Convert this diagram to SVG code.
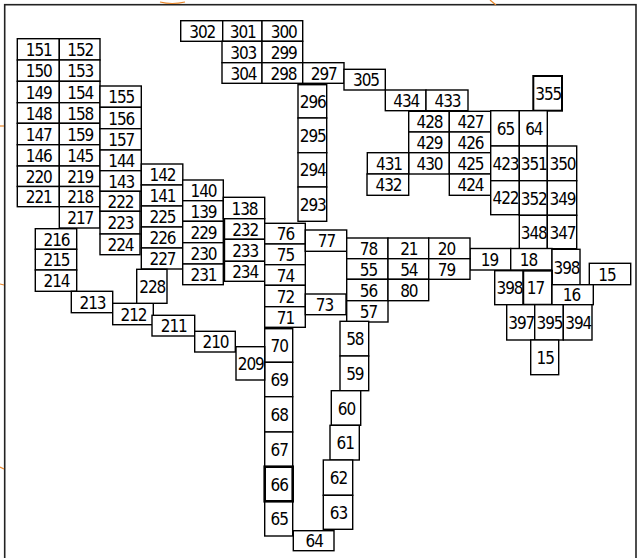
<svg xmlns="http://www.w3.org/2000/svg" width="640" height="558" viewBox="0 0 640 558">
<style>
rect{fill:#fff;stroke:#000;stroke-width:1.4}
rect.bold{stroke-width:2.6}
text{font-family:"DejaVu Sans Condensed","Liberation Sans",sans-serif;font-size:17px;letter-spacing:-1.1px;text-anchor:middle;fill:#000}
.frame{fill:none;stroke:#222;stroke-width:1.6}
.mark{fill:none;stroke:#e8862a;stroke-width:1.2}
</style>
<rect x="0" y="0" width="640" height="558" style="fill:#fff;stroke:none"/>
<rect class="frame" x="4.7" y="4.7" width="631.3" height="560"/>
<g id="marks">
<path class="mark" d="M160 2 Q172 5 185 2"/>
<path class="mark" d="M490 0 L496 5"/>
<path class="mark" d="M0 126 L4 126"/>
<path class="mark" d="M0 284 L4 285"/>
<path class="mark" d="M0 467 L4 469"/>
</g>
<g id="connectors"></g>
<g id="n151"><rect x="17.3" y="38.7" width="42" height="21.3"/><text x="38.8" y="56">151</text></g>
<g id="n152"><rect x="59.3" y="38.7" width="40.7" height="21.3"/><text x="80.2" y="56">152</text></g>
<g id="n150"><rect x="17.3" y="60" width="42" height="21.3"/><text x="38.8" y="77.2">150</text></g>
<g id="n153"><rect x="59.3" y="60" width="40.7" height="21.3"/><text x="80.2" y="77.2">153</text></g>
<g id="n149"><rect x="17.3" y="81.3" width="42" height="21.4"/><text x="38.8" y="98.5">149</text></g>
<g id="n154"><rect x="59.3" y="81.3" width="40.7" height="21.4"/><text x="80.2" y="98.5">154</text></g>
<g id="n148"><rect x="17.3" y="102.7" width="42" height="20.6"/><text x="38.8" y="119.5">148</text></g>
<g id="n158"><rect x="59.3" y="102.7" width="40.7" height="20.6"/><text x="80.2" y="119.5">158</text></g>
<g id="n147"><rect x="17.3" y="123.3" width="42" height="21.4"/><text x="38.8" y="140.5">147</text></g>
<g id="n159"><rect x="59.3" y="123.3" width="40.7" height="21.4"/><text x="80.2" y="140.5">159</text></g>
<g id="n146"><rect x="17.3" y="144.7" width="42" height="21.3"/><text x="38.8" y="161.8">146</text></g>
<g id="n145"><rect x="59.3" y="144.7" width="40.7" height="21.3"/><text x="80.2" y="161.8">145</text></g>
<g id="n220"><rect x="17.3" y="166" width="42" height="20.5"/><text x="38.8" y="182.7">220</text></g>
<g id="n219"><rect x="59.3" y="166" width="40.7" height="20.5"/><text x="80.2" y="182.7">219</text></g>
<g id="n221"><rect x="17.3" y="186.5" width="42" height="20.2"/><text x="38.8" y="203.1">221</text></g>
<g id="n218"><rect x="59.3" y="186.5" width="40.7" height="20.2"/><text x="80.2" y="203.1">218</text></g>
<g id="n217"><rect x="59.3" y="206.7" width="40.7" height="21.3"/><text x="80.2" y="223.8">217</text></g>
<g id="n155"><rect x="100" y="86" width="41.3" height="21.3"/><text x="121.2" y="103.2">155</text></g>
<g id="n156"><rect x="100" y="107.3" width="41.3" height="21.4"/><text x="121.2" y="124.5">156</text></g>
<g id="n157"><rect x="100" y="128.7" width="41.3" height="21.3"/><text x="121.2" y="145.8">157</text></g>
<g id="n144"><rect x="100" y="150" width="41.3" height="20.7"/><text x="121.2" y="166.8">144</text></g>
<g id="n143"><rect x="100" y="170.7" width="41.3" height="20.6"/><text x="121.2" y="187.5">143</text></g>
<g id="n222"><rect x="100" y="191.3" width="40" height="20"/><text x="120.5" y="207.8">222</text></g>
<g id="n223"><rect x="100" y="211.3" width="40" height="22.7"/><text x="120.5" y="229.2">223</text></g>
<g id="n224"><rect x="100" y="234" width="40" height="20.7"/><text x="120.5" y="250.8">224</text></g>
<g id="n142"><rect x="141.3" y="164" width="41.5" height="21"/><text x="162.5" y="181">142</text></g>
<g id="n141"><rect x="141.3" y="185" width="41.4" height="21"/><text x="162.5" y="202">141</text></g>
<g id="n225"><rect x="141.3" y="206" width="41.4" height="21"/><text x="162.5" y="223">225</text></g>
<g id="n226"><rect x="141.3" y="227" width="41.4" height="21"/><text x="162.5" y="244">226</text></g>
<g id="n227"><rect x="141.3" y="248" width="41.4" height="21"/><text x="162.5" y="265">227</text></g>
<g id="n140"><rect x="182.7" y="180" width="40.6" height="20.7"/><text x="203.5" y="196.8">140</text></g>
<g id="n139"><rect x="182.7" y="200.7" width="40.6" height="20.6"/><text x="203.5" y="217.5">139</text></g>
<g id="n229"><rect x="182.7" y="221.3" width="40.6" height="21.4"/><text x="203.5" y="238.5">229</text></g>
<g id="n230"><rect x="182.7" y="242.7" width="40.6" height="21.3"/><text x="203.5" y="259.8">230</text></g>
<g id="n231"><rect x="182.7" y="264" width="40.6" height="20.7"/><text x="203.5" y="280.8">231</text></g>
<g id="n138"><rect x="223.3" y="197.3" width="41.4" height="21.4"/><text x="244.5" y="214.5">138</text></g>
<g id="n232"><rect x="224.5" y="218.7" width="40.2" height="20.6"/><text x="245.1" y="235.5">232</text></g>
<g id="n233"><rect x="224.5" y="239.3" width="40.2" height="22"/><text x="245.1" y="256.8">233</text></g>
<g id="n234"><rect x="224.5" y="261.3" width="40.2" height="20"/><text x="245.1" y="277.8">234</text></g>
<g id="n76"><rect x="264.7" y="223.3" width="40.6" height="20.7"/><text x="285.5" y="240.1">76</text></g>
<g id="n75"><rect x="264.7" y="244" width="40.6" height="20.7"/><text x="285.5" y="260.8">75</text></g>
<g id="n74"><rect x="264.7" y="264.7" width="40.6" height="20.6"/><text x="285.5" y="281.5">74</text></g>
<g id="n72"><rect x="264.7" y="285.3" width="40.6" height="21.4"/><text x="285.5" y="302.5">72</text></g>
<g id="n71"><rect x="264.7" y="306.7" width="40.6" height="20.6"/><text x="285.5" y="323.5">71</text></g>
<g id="n70"><rect x="264.7" y="328.7" width="28" height="33.6"/><text x="279.2" y="352">70</text></g>
<g id="n69"><rect x="264.7" y="362.3" width="28" height="34.4"/><text x="279.2" y="386">69</text></g>
<g id="n68"><rect x="264.7" y="396.7" width="28" height="35.3"/><text x="279.2" y="420.8">68</text></g>
<g id="n67"><rect x="264.7" y="432" width="28" height="34.7"/><text x="279.2" y="455.8">67</text></g>
<g id="n65a"><rect x="264.7" y="501.3" width="28" height="34.7"/><text x="279.2" y="525.1">65</text></g>
<g id="n66"><rect class="bold" x="264.7" y="466.7" width="28" height="34.6"/><text x="279.2" y="490.5">66</text></g>
<g id="n64a"><rect x="293.3" y="530.7" width="40.7" height="20"/><text x="314.2" y="547.2">64</text></g>
<g id="n216"><rect x="35.3" y="228.7" width="41.4" height="20.6"/><text x="56.5" y="245.5">216</text></g>
<g id="n215"><rect x="35.3" y="249.3" width="41.4" height="20.7"/><text x="56.5" y="266.1">215</text></g>
<g id="n214"><rect x="35.3" y="270" width="41.4" height="21.3"/><text x="56.5" y="287.1">214</text></g>
<g id="n213"><rect x="71.3" y="291.3" width="41.4" height="21.4"/><text x="92.5" y="308.5">213</text></g>
<g id="n212"><rect x="112.7" y="303.3" width="40.6" height="21.4"/><text x="133.5" y="320.5">212</text></g>
<g id="n211"><rect x="152" y="315.3" width="42.7" height="20.7"/><text x="173.8" y="332.1">211</text></g>
<g id="n210"><rect x="194.7" y="331.3" width="40.6" height="20.7"/><text x="215.5" y="348.1">210</text></g>
<g id="n209"><rect x="236" y="346.7" width="28.7" height="33.3"/><text x="250.8" y="369.8">209</text></g>
<g id="n228"><rect x="136.7" y="269.3" width="30.3" height="34"/><text x="152.3" y="292.8">228</text></g>
<g id="n302"><rect x="180.7" y="20.7" width="42" height="20.6"/><text x="202.2" y="37.5">302</text></g>
<g id="n301"><rect x="222.7" y="20.7" width="39.3" height="20.6"/><text x="242.8" y="37.5">301</text></g>
<g id="n300"><rect x="262" y="20.7" width="40.7" height="20.6"/><text x="283.8" y="37.5">300</text></g>
<g id="n303"><rect x="222" y="41.3" width="40" height="21.4"/><text x="243.2" y="58.5">303</text></g>
<g id="n299"><rect x="262" y="41.3" width="40.7" height="21.4"/><text x="283.8" y="58.5">299</text></g>
<g id="n304"><rect x="222" y="62.7" width="40" height="20.6"/><text x="243.5" y="79.5">304</text></g>
<g id="n298"><rect x="262" y="62.7" width="40.7" height="20.6"/><text x="283.5" y="79.5">298</text></g>
<g id="n297"><rect x="302.7" y="62.7" width="41.3" height="20.6"/><text x="323.8" y="79.5">297</text></g>
<g id="n305"><rect x="344" y="69.3" width="41.3" height="20.7"/><text x="366" y="86.1">305</text></g>
<g id="n434"><rect x="385.3" y="90" width="40.7" height="20.7"/><text x="406.3" y="106.8">434</text></g>
<g id="n433"><rect x="426" y="90" width="42" height="20.7"/><text x="447.5" y="106.8">433</text></g>
<g id="n296"><rect x="298" y="84.7" width="28.7" height="33.3"/><text x="312.8" y="107.8">296</text></g>
<g id="n295"><rect x="298" y="118" width="28.7" height="34.7"/><text x="312.8" y="141.8">295</text></g>
<g id="n294"><rect x="298" y="152.7" width="28.7" height="34.3"/><text x="312.8" y="176.3">294</text></g>
<g id="n293"><rect x="298" y="187" width="28.7" height="34.3"/><text x="312.8" y="210.6">293</text></g>
<g id="n428"><rect x="408.7" y="111.3" width="40.6" height="20.7"/><text x="429.5" y="128.1">428</text></g>
<g id="n427"><rect x="449.3" y="111.3" width="41.4" height="20.7"/><text x="470.5" y="128.1">427</text></g>
<g id="n429"><rect x="408.7" y="132" width="40.6" height="20.7"/><text x="429.5" y="148.8">429</text></g>
<g id="n426"><rect x="449.3" y="132" width="41.4" height="20.7"/><text x="470.5" y="148.8">426</text></g>
<g id="n430"><rect x="408.7" y="152.7" width="40.6" height="21.3"/><text x="429.5" y="169.8">430</text></g>
<g id="n431"><rect x="367.3" y="152.7" width="41.4" height="21.3"/><text x="389" y="169.8">431</text></g>
<g id="n425"><rect x="449.3" y="152.7" width="41.4" height="21.3"/><text x="470.5" y="169.8">425</text></g>
<g id="n432"><rect x="367" y="174" width="41.7" height="21.3"/><text x="388.5" y="191.1">432</text></g>
<g id="n424"><rect x="449.3" y="174" width="41.4" height="21.3"/><text x="470.5" y="191.1">424</text></g>
<g id="n355"><rect x="533.3" y="76" width="28.7" height="34.7" style="stroke-width:2"/><text x="548.2" y="99.8">355</text></g>
<g id="n65b"><rect x="490.7" y="110.7" width="28.6" height="35.3"/><text x="505.5" y="134.8">65</text></g>
<g id="n64b"><rect x="519.3" y="110.7" width="28" height="35.3"/><text x="533.8" y="134.8">64</text></g>
<g id="n423"><rect x="490.7" y="146" width="28.6" height="34.7"/><text x="505.5" y="169.8">423</text></g>
<g id="n351"><rect x="519.3" y="146" width="28" height="34.7"/><text x="533.8" y="169.8">351</text></g>
<g id="n350"><rect x="547.3" y="146" width="29.4" height="34.7"/><text x="562.5" y="169.8">350</text></g>
<g id="n422"><rect x="490.7" y="180.7" width="28.6" height="34"/><text x="505.5" y="204.2">422</text></g>
<g id="n352"><rect x="519.3" y="180.7" width="28" height="34.6"/><text x="533.8" y="204.5">352</text></g>
<g id="n349"><rect x="547.3" y="180.7" width="29.4" height="34.6"/><text x="562.5" y="204.5">349</text></g>
<g id="n348"><rect x="519.3" y="215.3" width="28" height="33.4"/><text x="533.8" y="238.5">348</text></g>
<g id="n347"><rect x="547.3" y="215.3" width="29.4" height="33.4"/><text x="562.5" y="238.5">347</text></g>
<g id="n19"><rect x="470" y="248.5" width="40.7" height="21.5"/><text x="489.5" y="265.7">19</text></g>
<g id="n18"><rect x="510.7" y="248.5" width="41.3" height="21.5"/><text x="528.5" y="265.7">18</text></g>
<g id="n398a"><rect x="552" y="249.3" width="28" height="35.4"/><text x="566.5" y="273.5">398</text></g>
<g id="n15a"><rect x="589.3" y="263.3" width="41.4" height="21.4"/><text x="607" y="280.5">15</text></g>
<g id="n398b"><rect x="494.7" y="270.7" width="28.6" height="34"/><text x="509.5" y="294.2">398</text></g>
<g id="n17"><rect x="523.3" y="270.7" width="28.7" height="34" style="stroke-width:1.9"/><text x="535.5" y="294.2">17</text></g>
<g id="n16"><rect x="552" y="284.7" width="41.3" height="20"/><text x="571.5" y="301.2">16</text></g>
<g id="n397"><rect x="506.7" y="304.7" width="28" height="35.3"/><text x="521.2" y="328.8">397</text></g>
<g id="n395"><rect x="534.7" y="304.7" width="28.6" height="35.3"/><text x="549.5" y="328.8">395</text></g>
<g id="n394"><rect x="563.3" y="304.7" width="28.7" height="35.3"/><text x="578.2" y="328.8">394</text></g>
<g id="n15b"><rect x="530.7" y="340" width="28" height="34.7"/><text x="545.2" y="363.8">15</text></g>
<g id="n77"><rect x="305.3" y="230" width="41.4" height="21.3"/><text x="326.5" y="247.1">77</text></g>
<g id="n78"><rect x="346.7" y="238" width="41.3" height="20.7"/><text x="368.5" y="254.8">78</text></g>
<g id="n21"><rect x="388" y="238" width="40.7" height="20.7"/><text x="408.8" y="254.8">21</text></g>
<g id="n20"><rect x="428.7" y="238" width="41.3" height="20.7"/><text x="446.5" y="254.8">20</text></g>
<g id="n55"><rect x="346.7" y="258.7" width="41.3" height="20.6"/><text x="368.5" y="275.5">55</text></g>
<g id="n54"><rect x="388" y="258.7" width="40.7" height="20.6"/><text x="408.8" y="275.5">54</text></g>
<g id="n79"><rect x="428.7" y="258.7" width="41.3" height="20.6"/><text x="446.5" y="275.5">79</text></g>
<g id="n56"><rect x="346.7" y="279.3" width="41.3" height="21.4"/><text x="368.5" y="296.5">56</text></g>
<g id="n80"><rect x="388" y="279.3" width="40.7" height="21.4"/><text x="408.8" y="296.5">80</text></g>
<g id="n57"><rect x="346.7" y="300.7" width="41.3" height="21.3"/><text x="368.5" y="317.8">57</text></g>
<g id="n73"><rect x="305.3" y="294" width="40.7" height="20.7"/><text x="324.5" y="310.8">73</text></g>
<g id="n58"><rect x="340" y="321.3" width="28.7" height="34.7"/><text x="354.8" y="345.1">58</text></g>
<g id="n59"><rect x="340" y="356" width="28.7" height="34.7"/><text x="354.8" y="379.8">59</text></g>
<g id="n60"><rect x="331.3" y="390.7" width="29.4" height="34.6"/><text x="346.5" y="414.5">60</text></g>
<g id="n61"><rect x="330" y="425.3" width="29.3" height="34.7"/><text x="345.2" y="449.1">61</text></g>
<g id="n62"><rect x="323.3" y="460" width="29.4" height="35.3"/><text x="338.5" y="484.1">62</text></g>
<g id="n63"><rect x="323.3" y="495.3" width="29.4" height="34"/><text x="338.5" y="518.8">63</text></g>
</svg>
